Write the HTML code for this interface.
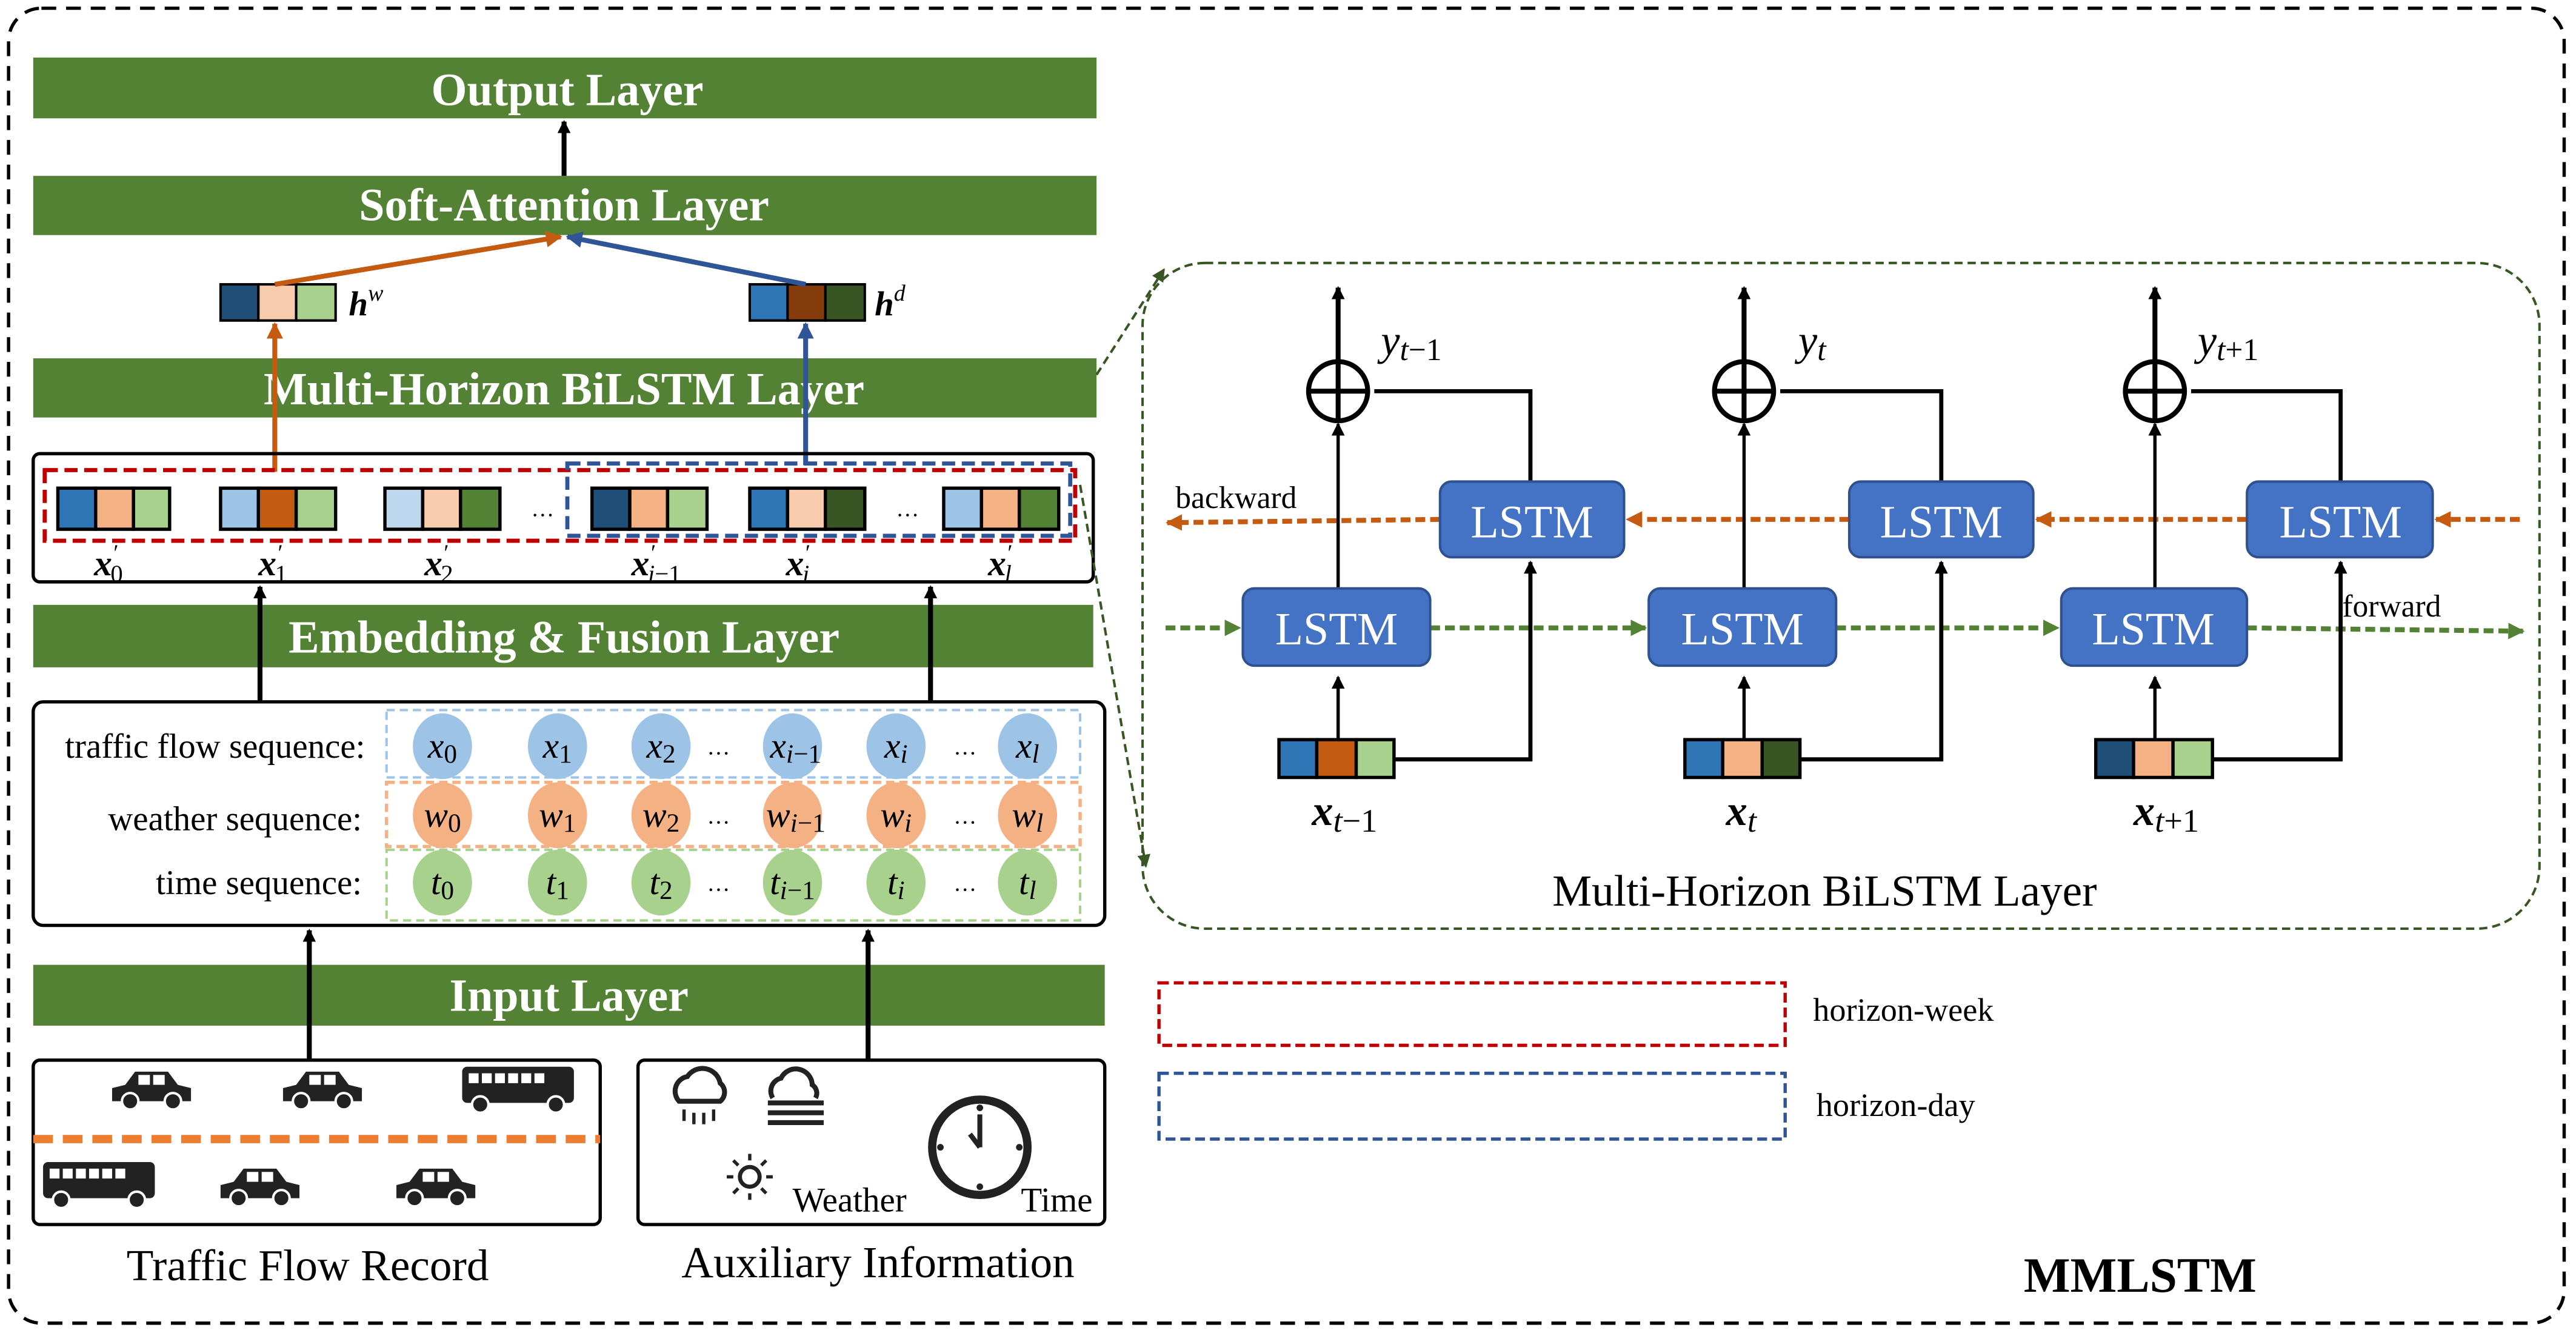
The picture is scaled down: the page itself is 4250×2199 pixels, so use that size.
<!DOCTYPE html>
<html><head><meta charset="utf-8"><style>html,body{margin:0;padding:0;background:#fff}svg{display:block}text{font-family:"Liberation Serif",serif}</style></head><body>
<svg width="4250" height="2199" viewBox="0 0 1567 811" xmlns="http://www.w3.org/2000/svg" font-family="Liberation Serif, serif">
<defs>
<marker id="ab" markerWidth="8" markerHeight="8" refX="7" refY="4" orient="auto" markerUnits="userSpaceOnUse"><path d="M0,0 L8,4 L0,8z" fill="#000"/></marker>
<marker id="ao" markerWidth="10" markerHeight="10" refX="9" refY="5" orient="auto" markerUnits="userSpaceOnUse"><path d="M0,0 L10,5 L0,10z" fill="#c55a11"/></marker>
<marker id="al" markerWidth="10" markerHeight="10" refX="9" refY="5" orient="auto" markerUnits="userSpaceOnUse"><path d="M0,0 L10,5 L0,10z" fill="#2f5597"/></marker>
<marker id="ag" markerWidth="10" markerHeight="10" refX="9" refY="5" orient="auto" markerUnits="userSpaceOnUse"><path d="M0,0 L10,5 L0,10z" fill="#548235"/></marker>
<marker id="ad" markerWidth="8" markerHeight="8" refX="7" refY="4" orient="auto" markerUnits="userSpaceOnUse"><path d="M0,0 L8,4 L0,8z" fill="#375623"/></marker>
<g id="car"><path d="M-24,6 L-24,-2 L-16,-4 L-10,-12 L10,-12 L16,-4 L24,-2 L24,6 Z" fill="#222"/><rect x="-8" y="-10" width="7" height="6" fill="#fff"/><rect x="1" y="-10" width="7" height="6" fill="#fff"/><circle cx="-13" cy="6" r="5" fill="#222" stroke="#fff" stroke-width="1.5"/><circle cx="13" cy="6" r="5" fill="#222" stroke="#fff" stroke-width="1.5"/></g>
<g id="bus"><rect x="-35" y="-15" width="68" height="22" rx="3" fill="#222"/><rect x="-31" y="-11" width="6" height="6" fill="#fff"/><rect x="-23" y="-11" width="6" height="6" fill="#fff"/><rect x="-15" y="-11" width="6" height="6" fill="#fff"/><rect x="-7" y="-11" width="6" height="6" fill="#fff"/><rect x="1" y="-11" width="6" height="6" fill="#fff"/><rect x="9" y="-11" width="6" height="6" fill="#fff"/><circle cx="-24" cy="8" r="5" fill="#222" stroke="#fff" stroke-width="1.5"/><circle cx="22" cy="8" r="5" fill="#222" stroke="#fff" stroke-width="1.5"/></g>
</defs>
<rect x="5" y="5" width="1555" height="800" rx="20" fill="none" stroke="#000" stroke-width="2" stroke-dasharray="9,6"/>
<g fill="#548235">
<rect x="20" y="35" width="647" height="37"/><rect x="20" y="107" width="647" height="36"/><rect x="20" y="218" width="647" height="36"/><rect x="20" y="368" width="645" height="38"/><rect x="20" y="587" width="652" height="37"/></g>
<g fill="#fff" font-weight="bold" font-size="28" text-anchor="middle">
<text x="345" y="64">Output Layer</text><text x="343" y="134">Soft-Attention Layer</text><text x="343" y="246">Multi-Horizon BiLSTM Layer</text><text x="343" y="397">Embedding &amp; Fusion Layer</text><text x="346" y="615">Input Layer</text></g>
<line x1="343" y1="107" x2="343" y2="74" stroke="#000" stroke-width="3" marker-end="url(#ab)"/>
<g stroke="#000" stroke-width="1.5">
<rect x="134" y="173" width="23" height="22" fill="#1f4e79"/><rect x="157" y="173" width="23" height="22" fill="#f8cbad"/><rect x="180" y="173" width="24" height="22" fill="#a9d18e"/>
<rect x="456" y="173" width="23" height="22" fill="#2e75b6"/><rect x="479" y="173" width="23" height="22" fill="#843c0c"/><rect x="502" y="173" width="24" height="22" fill="#375623"/></g>
<text x="212" y="192" font-size="21" font-weight="bold" font-style="italic">h<tspan font-size="14" dy="-9" font-weight="normal">w</tspan></text>
<text x="532" y="192" font-size="21" font-weight="bold" font-style="italic">h<tspan font-size="14" dy="-9" font-weight="normal">d</tspan></text>
<line x1="167" y1="173" x2="341" y2="144" stroke="#c55a11" stroke-width="3" marker-end="url(#ao)"/>
<line x1="490" y1="173" x2="345" y2="144" stroke="#2f5597" stroke-width="3" marker-end="url(#al)"/>
<line x1="167" y1="287" x2="167" y2="197" stroke="#c55a11" stroke-width="3" marker-end="url(#ao)"/>
<line x1="490" y1="283" x2="490" y2="197" stroke="#2f5597" stroke-width="3" marker-end="url(#al)"/>
<rect x="20" y="276" width="645" height="78" rx="4" fill="none" stroke="#000" stroke-width="2"/>
<rect x="27" y="286" width="627" height="43" fill="none" stroke="#c00000" stroke-width="2.5" stroke-dasharray="8,4"/>
<rect x="345" y="282" width="306" height="44" fill="none" stroke="#2f5597" stroke-width="2.5" stroke-dasharray="8,4"/>
<g stroke="#000" stroke-width="2">
<rect x="35" y="297" width="23" height="25" fill="#2e75b6"/><rect x="58" y="297" width="23" height="25" fill="#f4b183"/><rect x="81" y="297" width="22" height="25" fill="#a9d18e"/>
<rect x="134" y="297" width="23" height="25" fill="#9dc3e6"/><rect x="157" y="297" width="23" height="25" fill="#c55a11"/><rect x="180" y="297" width="24" height="25" fill="#a9d18e"/>
<rect x="234" y="297" width="23" height="25" fill="#bdd7ee"/><rect x="257" y="297" width="23" height="25" fill="#f8cbad"/><rect x="280" y="297" width="24" height="25" fill="#548235"/>
<rect x="360" y="297" width="23" height="25" fill="#1f4e79"/><rect x="383" y="297" width="23" height="25" fill="#f4b183"/><rect x="406" y="297" width="24" height="25" fill="#a9d18e"/>
<rect x="456" y="297" width="23" height="25" fill="#2e75b6"/><rect x="479" y="297" width="23" height="25" fill="#f8cbad"/><rect x="502" y="297" width="24" height="25" fill="#375623"/>
<rect x="574" y="297" width="23" height="25" fill="#9dc3e6"/><rect x="597" y="297" width="23" height="25" fill="#f4b183"/><rect x="620" y="297" width="24" height="25" fill="#548235"/></g>
<g font-size="14" text-anchor="middle"><text x="330" y="314">…</text><text x="552" y="314">…</text></g>
<g font-size="22" font-weight="bold" font-style="italic">
<text x="57" y="350">x<tspan font-size="14" font-weight="normal" dy="-9">′</tspan><tspan font-size="15" font-weight="normal" font-style="normal" dx="-4" dy="13">0</tspan></text>
<text x="157" y="350">x<tspan font-size="14" font-weight="normal" dy="-9">′</tspan><tspan font-size="15" font-weight="normal" font-style="normal" dx="-4" dy="13">1</tspan></text>
<text x="258" y="350">x<tspan font-size="14" font-weight="normal" dy="-9">′</tspan><tspan font-size="15" font-weight="normal" font-style="normal" dx="-4" dy="13">2</tspan></text>
<text x="384" y="350">x<tspan font-size="14" font-weight="normal" dy="-9">′</tspan><tspan font-size="15" font-weight="normal" dx="-4" dy="13">i</tspan><tspan font-size="15" font-weight="normal" font-style="normal">−1</tspan></text>
<text x="478" y="350">x<tspan font-size="14" font-weight="normal" dy="-9">′</tspan><tspan font-size="15" font-weight="normal" dx="-4" dy="13">i</tspan></text>
<text x="601" y="350">x<tspan font-size="14" font-weight="normal" dy="-9">′</tspan><tspan font-size="15" font-weight="normal" dx="-4" dy="13">l</tspan></text></g>
<line x1="158" y1="427" x2="158" y2="357" stroke="#000" stroke-width="3" marker-end="url(#ab)"/>
<line x1="566" y1="427" x2="566" y2="357" stroke="#000" stroke-width="3" marker-end="url(#ab)"/>
<rect x="20" y="427" width="652" height="136" rx="6" fill="none" stroke="#000" stroke-width="2"/>
<g font-size="21" text-anchor="end"><text x="222" y="461">traffic flow sequence:</text><text x="220" y="505">weather sequence:</text><text x="220" y="544">time sequence:</text></g>
<rect x="235" y="432" width="422" height="41" fill="none" stroke="#9dc3e6" stroke-width="1.5" stroke-dasharray="5,3"/>
<rect x="235" y="476" width="422" height="39" fill="none" stroke="#f4b183" stroke-width="2" stroke-dasharray="5,3"/>
<rect x="235" y="517" width="422" height="43" fill="none" stroke="#a9d18e" stroke-width="1.5" stroke-dasharray="5,3"/>
<g fill="#9dc3e6"><ellipse cx="269" cy="454" rx="18" ry="20"/><ellipse cx="339" cy="454" rx="18" ry="20"/><ellipse cx="402" cy="454" rx="18" ry="20"/><ellipse cx="482" cy="454" rx="18" ry="20"/><ellipse cx="545" cy="454" rx="18" ry="20"/><ellipse cx="625" cy="454" rx="18" ry="20"/></g>
<g fill="#f4b183"><ellipse cx="269" cy="496" rx="18" ry="20"/><ellipse cx="339" cy="496" rx="18" ry="20"/><ellipse cx="402" cy="496" rx="18" ry="20"/><ellipse cx="482" cy="496" rx="18" ry="20"/><ellipse cx="545" cy="496" rx="18" ry="20"/><ellipse cx="625" cy="496" rx="18" ry="20"/></g>
<g fill="#a9d18e"><ellipse cx="269" cy="537" rx="18" ry="20"/><ellipse cx="339" cy="537" rx="18" ry="20"/><ellipse cx="402" cy="537" rx="18" ry="20"/><ellipse cx="482" cy="537" rx="18" ry="20"/><ellipse cx="545" cy="537" rx="18" ry="20"/><ellipse cx="625" cy="537" rx="18" ry="20"/></g>
<g font-size="14" text-anchor="middle"><text x="437" y="459">…</text><text x="587" y="459">…</text><text x="437" y="501">…</text><text x="587" y="501">…</text><text x="437" y="542">…</text><text x="587" y="542">…</text></g>
<g font-size="22" font-style="italic" text-anchor="middle">
<text x="269" y="461">x<tspan font-size="16" font-style="normal" dy="3">0</tspan></text><text x="339" y="461">x<tspan font-size="16" font-style="normal" dy="3">1</tspan></text><text x="402" y="461">x<tspan font-size="16" font-style="normal" dy="3">2</tspan></text><text x="484" y="461">x<tspan font-size="16" dy="3">i</tspan><tspan font-size="16" font-style="normal">−1</tspan></text><text x="545" y="461">x<tspan font-size="16" dy="3">i</tspan></text><text x="625" y="461">x<tspan font-size="16" dy="3">l</tspan></text>
<text x="269" y="503">w<tspan font-size="16" font-style="normal" dy="3">0</tspan></text><text x="339" y="503">w<tspan font-size="16" font-style="normal" dy="3">1</tspan></text><text x="402" y="503">w<tspan font-size="16" font-style="normal" dy="3">2</tspan></text><text x="484" y="503">w<tspan font-size="16" dy="3">i</tspan><tspan font-size="16" font-style="normal">−1</tspan></text><text x="545" y="503">w<tspan font-size="16" dy="3">i</tspan></text><text x="625" y="503">w<tspan font-size="16" dy="3">l</tspan></text>
<text x="269" y="544">t<tspan font-size="16" font-style="normal" dy="3">0</tspan></text><text x="339" y="544">t<tspan font-size="16" font-style="normal" dy="3">1</tspan></text><text x="402" y="544">t<tspan font-size="16" font-style="normal" dy="3">2</tspan></text><text x="482" y="544">t<tspan font-size="16" dy="3">i</tspan><tspan font-size="16" font-style="normal">−1</tspan></text><text x="545" y="544">t<tspan font-size="16" dy="3">i</tspan></text><text x="625" y="544">t<tspan font-size="16" dy="3">l</tspan></text></g>
<line x1="188" y1="645" x2="188" y2="566" stroke="#000" stroke-width="3" marker-end="url(#ab)"/>
<line x1="528" y1="645" x2="528" y2="566" stroke="#000" stroke-width="3" marker-end="url(#ab)"/>
<rect x="20" y="645" width="345" height="100" rx="4" fill="none" stroke="#000" stroke-width="2"/>
<rect x="388" y="645" width="284" height="100" rx="4" fill="none" stroke="#000" stroke-width="2"/>
<line x1="20" y1="693" x2="365" y2="693" stroke="#ed7d31" stroke-width="5" stroke-dasharray="12,6"/>
<use href="#car" x="92" y="664"/><use href="#car" x="196" y="664"/><use href="#bus" x="316" y="664"/>
<use href="#bus" x="61" y="722"/><use href="#car" x="158" y="723"/><use href="#car" x="265" y="723"/>
<path d="M413,670 a9,9 0 0 1 5,-15 a11,11 0 0 1 20,4 a7,7 0 0 1 0,11 z" fill="none" stroke="#222" stroke-width="3"/>
<g stroke="#222" stroke-width="2"><line x1="416" y1="675" x2="416" y2="682"/><line x1="422" y1="677" x2="422" y2="684"/><line x1="428" y1="677" x2="428" y2="684"/><line x1="434" y1="675" x2="434" y2="682"/></g>
<path d="M470,668 a8,8 0 0 1 5,-12 a10,10 0 0 1 19,4 a6,6 0 0 1 2,8" fill="none" stroke="#222" stroke-width="3"/>
<g stroke="#222" stroke-width="3"><line x1="467" y1="671" x2="501" y2="671"/><line x1="467" y1="677" x2="501" y2="677"/><line x1="467" y1="683" x2="501" y2="683"/></g>
<circle cx="456" cy="716" r="6" fill="none" stroke="#222" stroke-width="2.5"/>
<g stroke="#222" stroke-width="2"><line x1="456" y1="702" x2="456" y2="706"/><line x1="456" y1="726" x2="456" y2="730"/><line x1="442" y1="716" x2="446" y2="716"/><line x1="466" y1="716" x2="470" y2="716"/><line x1="446" y1="706" x2="449" y2="709"/><line x1="463" y1="723" x2="466" y2="726"/><line x1="446" y1="726" x2="449" y2="723"/><line x1="463" y1="709" x2="466" y2="706"/></g>
<circle cx="596" cy="698" r="29" fill="none" stroke="#222" stroke-width="5"/>
<g stroke="#222" stroke-width="3"><line x1="596" y1="698" x2="596" y2="678"/><line x1="596" y1="698" x2="590" y2="690"/></g>
<g fill="#222"><circle cx="596" cy="674" r="2"/><circle cx="596" cy="722" r="2"/><circle cx="572" cy="698" r="2"/><circle cx="620" cy="698" r="2"/></g>
<text x="482" y="737" font-size="21">Weather</text><text x="621" y="737" font-size="21">Time</text>
<g font-size="27" text-anchor="middle"><text x="187" y="779">Traffic Flow Record</text><text x="534" y="777">Auxiliary Information</text></g>
<rect x="695" y="160" width="850" height="405" rx="38" fill="none" stroke="#375623" stroke-width="1.5" stroke-dasharray="5,3"/>
<line x1="667" y1="228" x2="708" y2="164" stroke="#375623" stroke-width="1.5" stroke-dasharray="5,3" marker-end="url(#ad)"/>
<line x1="657" y1="295" x2="697" y2="527" stroke="#375623" stroke-width="1.5" stroke-dasharray="5,3" marker-end="url(#ad)"/>
<g stroke="#c55a11" stroke-width="3" stroke-dasharray="6,3" marker-end="url(#ao)">
<line x1="1533" y1="316" x2="1482" y2="316"/><line x1="1367" y1="316" x2="1239" y2="316"/><line x1="1125" y1="316" x2="990" y2="316"/><line x1="876" y1="316" x2="710" y2="318"/></g>
<g stroke="#548235" stroke-width="3" stroke-dasharray="6,3" marker-end="url(#ag)">
<line x1="709" y1="382" x2="754" y2="382"/><line x1="870" y1="382" x2="1001" y2="382"/><line x1="1117" y1="382" x2="1252" y2="382"/><line x1="1367" y1="382" x2="1535" y2="384"/></g>
<text x="715" y="309" font-size="19">backward</text><text x="1425" y="375" font-size="19">forward</text>
<g stroke="#000" stroke-width="2.5" fill="none">
<polyline points="848,462 931,462 931,342"/><polyline points="1095,462 1181,462 1181,342"/><polyline points="1346,462 1424,462 1424,342"/>
<polyline points="931,293 931,238 836,238"/><polyline points="1181,293 1181,238 1083,238"/><polyline points="1424,293 1424,238 1333,238"/>
</g>
<g stroke="#000" stroke-width="2">
<line x1="814" y1="450" x2="814" y2="412" marker-end="url(#ab)"/><line x1="1061" y1="450" x2="1061" y2="412" marker-end="url(#ab)"/><line x1="1311" y1="450" x2="1311" y2="412" marker-end="url(#ab)"/>
<line x1="814" y1="358" x2="814" y2="258" marker-end="url(#ab)"/><line x1="1061" y1="358" x2="1061" y2="258" marker-end="url(#ab)"/><line x1="1311" y1="358" x2="1311" y2="258" marker-end="url(#ab)"/>
<line x1="931" y1="450" x2="931" y2="342" marker-end="url(#ab)"/><line x1="1181" y1="450" x2="1181" y2="342" marker-end="url(#ab)"/><line x1="1424" y1="450" x2="1424" y2="342" marker-end="url(#ab)"/>
</g>
<g stroke="#000" stroke-width="3">
<line x1="814" y1="220" x2="814" y2="175" marker-end="url(#ab)"/><line x1="1061" y1="220" x2="1061" y2="175" marker-end="url(#ab)"/><line x1="1311" y1="220" x2="1311" y2="175" marker-end="url(#ab)"/></g>
<g fill="none" stroke="#000" stroke-width="3">
<ellipse cx="814" cy="238" rx="18" ry="18"/><line x1="796" y1="238" x2="832" y2="238"/><line x1="814" y1="220" x2="814" y2="256"/>
<ellipse cx="1061" cy="238" rx="18" ry="18"/><line x1="1043" y1="238" x2="1079" y2="238"/><line x1="1061" y1="220" x2="1061" y2="256"/>
<ellipse cx="1311" cy="238" rx="18" ry="18"/><line x1="1293" y1="238" x2="1329" y2="238"/><line x1="1311" y1="220" x2="1311" y2="256"/></g>
<g fill="#4472c4" stroke="#2f528f" stroke-width="1.5">
<rect x="756" y="358" width="114" height="47" rx="7"/><rect x="1003" y="358" width="114" height="47" rx="7"/><rect x="1254" y="358" width="113" height="47" rx="7"/>
<rect x="876" y="293" width="112" height="46" rx="7"/><rect x="1125" y="293" width="112" height="46" rx="7"/><rect x="1367" y="293" width="113" height="46" rx="7"/></g>
<g fill="#fff" font-size="28" text-anchor="middle">
<text x="813" y="392">LSTM</text><text x="1060" y="392">LSTM</text><text x="1310" y="392">LSTM</text>
<text x="932" y="327">LSTM</text><text x="1181" y="327">LSTM</text><text x="1424" y="327">LSTM</text></g>
<g stroke="#000" stroke-width="2">
<rect x="778" y="450" width="23" height="23" fill="#2e75b6"/><rect x="801" y="450" width="24" height="23" fill="#c55a11"/><rect x="825" y="450" width="23" height="23" fill="#a9d18e"/>
<rect x="1025" y="450" width="23" height="23" fill="#2e75b6"/><rect x="1048" y="450" width="24" height="23" fill="#f4b183"/><rect x="1072" y="450" width="23" height="23" fill="#375623"/>
<rect x="1275" y="450" width="23" height="23" fill="#1f4e79"/><rect x="1298" y="450" width="24" height="23" fill="#f4b183"/><rect x="1322" y="450" width="24" height="23" fill="#a9d18e"/></g>
<g font-size="26" font-style="italic">
<text x="840" y="216">y<tspan font-size="19" dy="3">t</tspan><tspan font-size="19" font-style="normal">−1</tspan></text>
<text x="1094" y="216">y<tspan font-size="19" dy="3">t</tspan></text>
<text x="1337" y="216">y<tspan font-size="19" dy="3">t</tspan><tspan font-size="19" font-style="normal">+1</tspan></text></g>
<g font-size="26" font-style="italic" font-weight="bold">
<text x="798" y="502">x<tspan font-size="20" font-weight="normal" dy="4">t</tspan><tspan font-size="20" font-weight="normal" font-style="normal">−1</tspan></text>
<text x="1050" y="502">x<tspan font-size="20" font-weight="normal" dy="4">t</tspan></text>
<text x="1298" y="502">x<tspan font-size="20" font-weight="normal" dy="4">t</tspan><tspan font-size="20" font-weight="normal" font-style="normal">+1</tspan></text></g>
<text x="1110" y="551" font-size="27" text-anchor="middle">Multi-Horizon BiLSTM Layer</text>
<rect x="705" y="598" width="381" height="38" fill="none" stroke="#c00000" stroke-width="2" stroke-dasharray="6,3"/>
<rect x="705" y="653" width="381" height="40" fill="none" stroke="#2f5597" stroke-width="2" stroke-dasharray="6,3"/>
<text x="1103" y="621" font-size="20">horizon-week</text><text x="1105" y="679" font-size="20">horizon-day</text>
<text x="1302" y="786" font-size="30" font-weight="bold" text-anchor="middle">MMLSTM</text>
</svg>
</body></html>
